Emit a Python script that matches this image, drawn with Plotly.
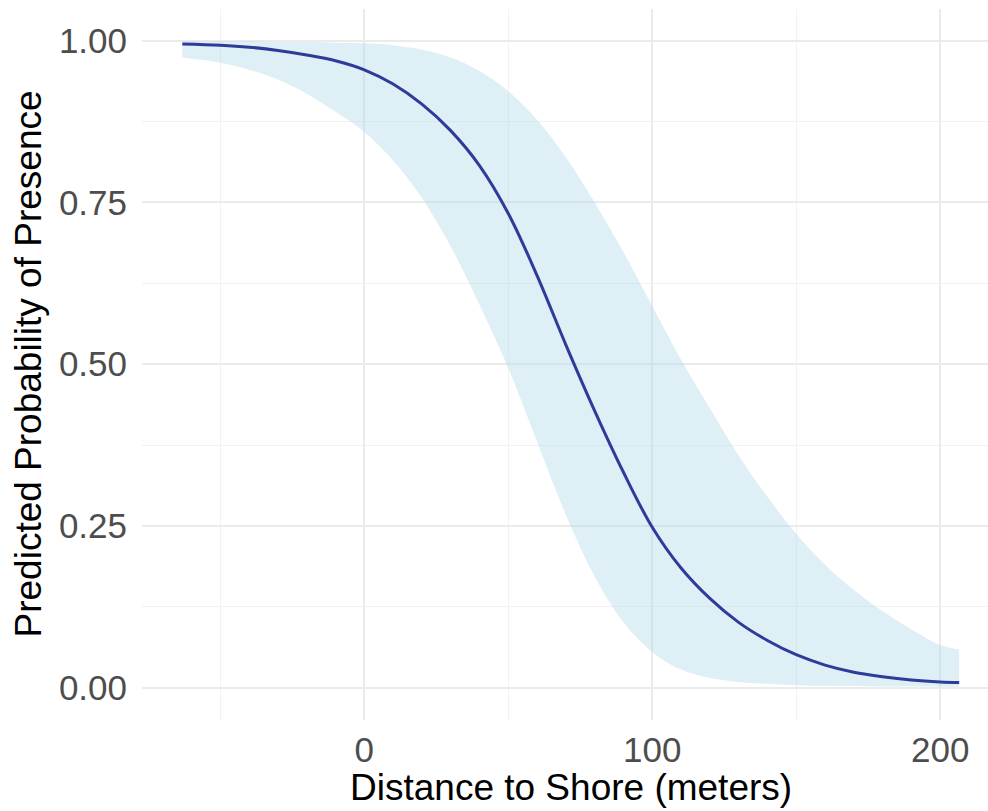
import plotly.graph_objects as go

# Data
distance = [-63.2, -50, -40, -30, -20, -10, 0, 10, 20, 30, 40, 50, 60, 70, 80,
            90, 100, 110, 120, 130, 140, 150, 160, 170, 180, 190, 200, 206.6]
prob_fit = [0.995, 0.993, 0.990, 0.985, 0.978, 0.969, 0.955, 0.933, 0.902, 0.861,
            0.807, 0.733, 0.637, 0.530, 0.428, 0.333, 0.248, 0.185, 0.138, 0.101,
            0.073, 0.051, 0.035, 0.024, 0.017, 0.012, 0.009, 0.008]
prob_lower = [0.974, 0.966, 0.955, 0.940, 0.918, 0.890, 0.859, 0.815, 0.757, 0.682,
              0.592, 0.494, 0.380, 0.267, 0.172, 0.101, 0.055, 0.028, 0.015, 0.009,
              0.006, 0.004, 0.003, 0.0025, 0.002, 0.0018, 0.0016, 0.0015]
prob_upper = [0.999, 0.999, 0.999, 0.998, 0.998, 0.997, 0.996, 0.993, 0.986, 0.974,
              0.953, 0.922, 0.878, 0.820, 0.750, 0.673, 0.590, 0.507, 0.432, 0.359,
              0.295, 0.238, 0.190, 0.151, 0.118, 0.090, 0.066, 0.059]

x_ticks = [0, 100, 200]
x_minor = [-50, 50, 150]
y_ticks = [0, 0.25, 0.5, 0.75, 1.0]
y_minor = [0.125, 0.375, 0.625, 0.875]

FONT = "Liberation Sans, Arial, Helvetica, sans-serif"

fig = go.Figure()
fig.add_trace(go.Scatter(x=distance, y=prob_lower, mode="lines",
                         line=dict(width=0, shape="spline", smoothing=1.0),
                         showlegend=False, hoverinfo="skip"))
fig.add_trace(go.Scatter(x=distance, y=prob_upper, mode="lines",
                         line=dict(width=0, shape="spline", smoothing=1.0),
                         fill="tonexty", fillcolor="rgba(173,216,230,0.4)",
                         showlegend=False, hoverinfo="skip"))
fig.add_trace(go.Scatter(x=distance, y=prob_fit, mode="lines",
                         line=dict(color="#2E3B99", width=3, shape="spline", smoothing=1.0),
                         showlegend=False))

W, H = 988, 811
L, R, T, B = 142, 0, 9, 91

fig.update_layout(
    width=W, height=H,
    margin=dict(l=L, r=R, t=T, b=B),
    paper_bgcolor="white", plot_bgcolor="white",
    font=dict(family=FONT, size=35, color="#4D4D4D"),
    xaxis=dict(range=[-77.2, 216.6], tickvals=x_ticks, ticktext=[str(v) for v in x_ticks],
               showgrid=True, gridcolor="#EBEBEB", gridwidth=2,
               minor=dict(tickvals=x_minor, showgrid=True, gridcolor="#F2F2F2", gridwidth=1.2),
               zeroline=False, showline=False, ticks="", ticklabelstandoff=6,
               tickfont=dict(size=35, color="#4D4D4D", family=FONT)),
    yaxis=dict(range=[-0.0499, 1.049], tickvals=y_ticks, tickformat=".2f",
               showgrid=True, gridcolor="#EBEBEB", gridwidth=2,
               minor=dict(tickvals=y_minor, showgrid=True, gridcolor="#F2F2F2", gridwidth=1.2),
               zeroline=False, showline=False, ticks="", ticklabelstandoff=14,
               tickfont=dict(size=35, color="#4D4D4D", family=FONT)),
    annotations=[
        dict(text="Distance to Shore (meters)", xref="paper", yref="paper",
             x=(571 - L) / (W - L - R), y=-(787 - (H - B)) / (H - B - T),
             xanchor="center", yanchor="middle", showarrow=False,
             font=dict(size=37, color="black", family=FONT)),
        dict(text="Predicted Probability of Presence", xref="paper", yref="paper",
             x=(28 - L) / (W - L - R), y=0.5, textangle=-90,
             xanchor="center", yanchor="middle", showarrow=False,
             font=dict(size=37, color="black", family=FONT)),
    ],
)

fig.write_html("out.html")
